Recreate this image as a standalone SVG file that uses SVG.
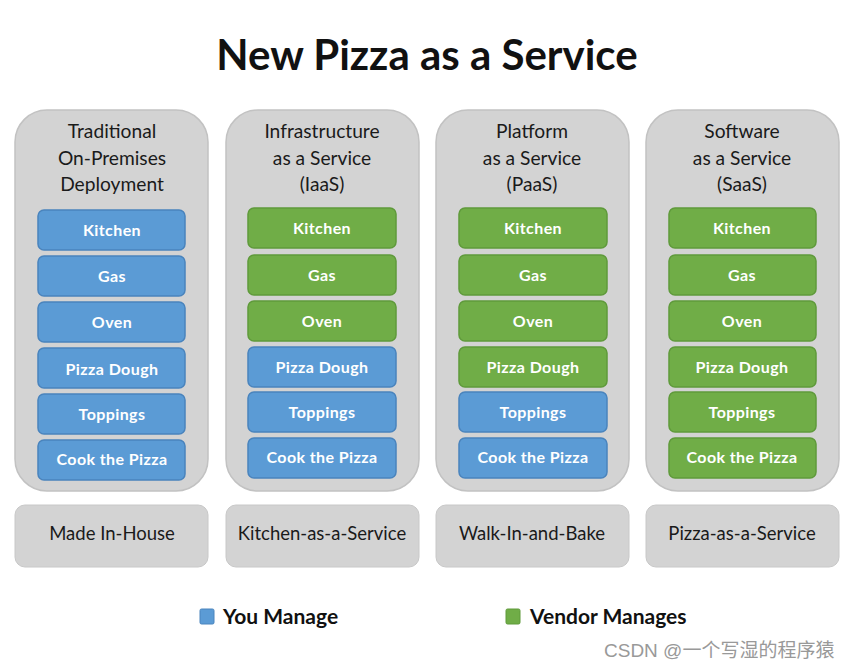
<svg xmlns="http://www.w3.org/2000/svg" width="850" height="668" viewBox="0 0 850 668">
<style>
text{font-family:Lato,"Liberation Sans",sans-serif;}
.title{font-size:42px;font-weight:bold;fill:#111;text-anchor:middle;}
.panel{fill:#d3d3d3;stroke:#c2c2c2;stroke-width:1.5;}
.foot{fill:#d3d3d3;stroke:#c8c8c8;stroke-width:1;}
.hd{font-size:19.2px;fill:#1a1a1a;text-anchor:middle;}
.ft{font-size:18.5px;fill:#1a1a1a;text-anchor:middle;}
.b{fill:#5b9bd5;stroke:#4a84bd;stroke-width:1.5;}
.g{fill:#70ad47;stroke:#5f9a3b;stroke-width:1.5;}
.lbl{font-size:16px;font-weight:bold;fill:#fff;text-anchor:middle;letter-spacing:0.4px;}
.leg{font-size:21px;font-weight:bold;fill:#111;}
.wm{font-family:"Liberation Sans","Noto Sans CJK SC",sans-serif;font-size:19px;fill:#999;}
</style>
<text class="title" x="427" y="70">New Pizza as a Service</text>

<g id="col1">
<rect class="panel" x="15" y="110" width="193" height="381" rx="32"/>
<text class="hd" x="112" y="138">Traditional</text>
<text class="hd" x="112" y="165">On-Premises</text>
<text class="hd" x="112" y="191">Deployment</text>
<rect class="b" x="38" y="210" width="147" height="40" rx="6"/><text class="lbl" x="112" y="236">Kitchen</text>
<rect class="b" x="38" y="256" width="147" height="40" rx="6"/><text class="lbl" x="112" y="282">Gas</text>
<rect class="b" x="38" y="302" width="147" height="40" rx="6"/><text class="lbl" x="112" y="328">Oven</text>
<rect class="b" x="38" y="348" width="147" height="40" rx="6"/><text class="lbl" x="112" y="375">Pizza Dough</text>
<rect class="b" x="38" y="394" width="147" height="40" rx="6"/><text class="lbl" x="112" y="420">Toppings</text>
<rect class="b" x="38" y="440" width="147" height="40" rx="6"/><text class="lbl" x="112" y="465">Cook the Pizza</text>
</g>
<g id="foot1"><rect class="foot" x="15" y="505" width="193" height="62" rx="10"/><text class="ft" x="112" y="540">Made In-House</text></g>

<g id="col2">
<rect class="panel" x="226" y="110" width="193" height="381" rx="32"/>
<text class="hd" x="322" y="138">Infrastructure</text>
<text class="hd" x="322" y="165">as a Service</text>
<text class="hd" x="322" y="191">(IaaS)</text>
<rect class="g" x="248" y="208" width="148" height="40" rx="6"/><text class="lbl" x="322" y="234">Kitchen</text>
<rect class="g" x="248" y="255" width="148" height="40" rx="6"/><text class="lbl" x="322" y="281">Gas</text>
<rect class="g" x="248" y="301" width="148" height="40" rx="6"/><text class="lbl" x="322" y="327">Oven</text>
<rect class="b" x="248" y="347" width="148" height="40" rx="6"/><text class="lbl" x="322" y="373">Pizza Dough</text>
<rect class="b" x="248" y="392" width="148" height="40" rx="6"/><text class="lbl" x="322" y="418">Toppings</text>
<rect class="b" x="248" y="438" width="148" height="40" rx="6"/><text class="lbl" x="322" y="463">Cook the Pizza</text>
</g>
<g id="foot2"><rect class="foot" x="226" y="505" width="193" height="62" rx="10"/><text class="ft" x="322" y="540">Kitchen-as-a-Service</text></g>

<g id="col3">
<rect class="panel" x="436" y="110" width="193" height="381" rx="32"/>
<text class="hd" x="532" y="138">Platform</text>
<text class="hd" x="532" y="165">as a Service</text>
<text class="hd" x="532" y="191">(PaaS)</text>
<rect class="g" x="459" y="208" width="148" height="40" rx="6"/><text class="lbl" x="533" y="234">Kitchen</text>
<rect class="g" x="459" y="255" width="148" height="40" rx="6"/><text class="lbl" x="533" y="281">Gas</text>
<rect class="g" x="459" y="301" width="148" height="40" rx="6"/><text class="lbl" x="533" y="327">Oven</text>
<rect class="g" x="459" y="347" width="148" height="40" rx="6"/><text class="lbl" x="533" y="373">Pizza Dough</text>
<rect class="b" x="459" y="392" width="148" height="40" rx="6"/><text class="lbl" x="533" y="418">Toppings</text>
<rect class="b" x="459" y="438" width="148" height="40" rx="6"/><text class="lbl" x="533" y="463">Cook the Pizza</text>
</g>
<g id="foot3"><rect class="foot" x="436" y="505" width="193" height="62" rx="10"/><text class="ft" x="532" y="540">Walk-In-and-Bake</text></g>

<g id="col4">
<rect class="panel" x="646" y="110" width="193" height="381" rx="32"/>
<text class="hd" x="742" y="138">Software</text>
<text class="hd" x="742" y="165">as a Service</text>
<text class="hd" x="742" y="191">(SaaS)</text>
<rect class="g" x="669" y="208" width="147" height="40" rx="6"/><text class="lbl" x="742" y="234">Kitchen</text>
<rect class="g" x="669" y="255" width="147" height="40" rx="6"/><text class="lbl" x="742" y="281">Gas</text>
<rect class="g" x="669" y="301" width="147" height="40" rx="6"/><text class="lbl" x="742" y="327">Oven</text>
<rect class="g" x="669" y="347" width="147" height="40" rx="6"/><text class="lbl" x="742" y="373">Pizza Dough</text>
<rect class="g" x="669" y="392" width="147" height="40" rx="6"/><text class="lbl" x="742" y="418">Toppings</text>
<rect class="g" x="669" y="438" width="147" height="40" rx="6"/><text class="lbl" x="742" y="463">Cook the Pizza</text>
</g>
<g id="foot4"><rect class="foot" x="646" y="505" width="193" height="62" rx="10"/><text class="ft" x="742" y="540">Pizza-as-a-Service</text></g>

<g id="legend">
<rect x="200" y="609" width="14" height="15" rx="1.5" fill="#5b9bd5" stroke="#4a84bd"/>
<text class="leg" x="223" y="624">You Manage</text>
<rect x="506" y="609" width="14" height="15" rx="1.5" fill="#70ad47" stroke="#5f9a3b"/>
<text class="leg" x="530" y="624">Vendor Manages</text>
</g>
<text class="wm" x="604" y="657">CSDN @一个写湿的程序猿</text>
</svg>
